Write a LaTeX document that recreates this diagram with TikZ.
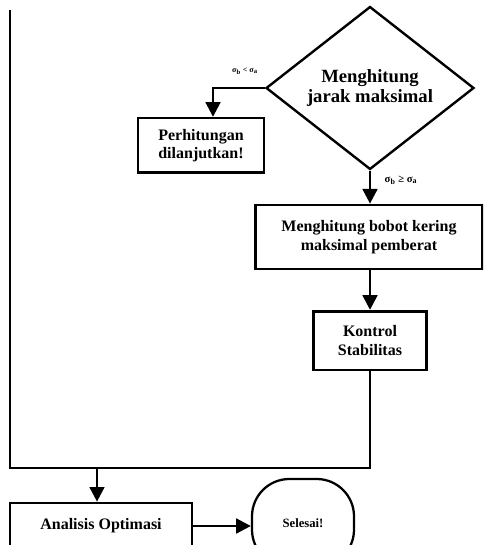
\documentclass[tikz,border=0pt]{standalone}
\usepackage{fontspec}
\setmainfont{Liberation Serif}
\usetikzlibrary{shapes.geometric,arrows.meta}
\tikzstyle{process}=[draw,line width=2pt,align=center,font=\bfseries\fontsize{12}{14}\selectfont,inner sep=2pt]
\tikzstyle{decision}=[draw,diamond,line width=1.8pt,align=center,font=\bfseries\fontsize{14}{15}\selectfont,minimum width=156pt,minimum height=117pt,inner sep=0pt]
\tikzstyle{terminal}=[draw,rounded corners=28pt,line width=1.7pt,font=\bfseries\fontsize{9.5}{11}\selectfont,minimum width=76.5pt,minimum height=66pt]
\tikzstyle{flow}=[line width=2pt,-{Triangle[width=11pt,length=11pt]}]
\tikzstyle{wire}=[line width=2pt]
\tikzstyle{cond}=[font=\bfseries\fontsize{6}{7}\selectfont,inner sep=0pt]

\begin{document}
\begin{tikzpicture}[x=0.75pt,y=-0.75pt]
\clip (0,0) rectangle (483,545);
% decision and branches
\node[decision] (jarak) at (370,88) {Menghitung\\jarak maksimal};
\node[process,minimum width=94.5pt,minimum height=41pt] (lanjut) at (201,145.5) {Perhitungan\\dilanjutkan!};
\node[process,minimum width=170pt,minimum height=48pt] (bobot) at (369,237) {Menghitung bobot kering\\maksimal pemberat};
\node[process,minimum width=85pt,minimum height=44pt] (kontrol) at (370,340.5) {Kontrol\\Stabilitas};
\node[cond] (lkiri) at (245,71) {σ\textsubscript{b} < σ\textsubscript{a}};
\node[cond,font=\bfseries\fontsize{8}{9}\selectfont] (lbawah) at (401,180) {σ\textsubscript{b} ≥ σ\textsubscript{a}};
% end part
\node[process,minimum width=136.5pt,minimum height=34.5pt] (analisis) at (101,526) {Analisis Optimasi};
\node[terminal] (selesai) at (303,523) {Selesai!};
\coordinate (atas) at (10,10);
\coordinate (bawah) at (10,468);
\coordinate (turun) at (97,468);

\draw[flow] (jarak.west) -| ([xshift=9pt]lanjut.north);
\draw[flow] (jarak.south) -- (jarak.south |- bobot.north);
\draw[flow] (jarak.south |- bobot.south) -- (jarak.south |- kontrol.north);
\draw[wire] (kontrol.south) |- (bawah) -- (atas);
\draw[flow] (turun) -- (turun |- analisis.north);
\draw[flow] (analisis.east) -- (analisis.east -| selesai.west);
\end{tikzpicture}
\end{document}
